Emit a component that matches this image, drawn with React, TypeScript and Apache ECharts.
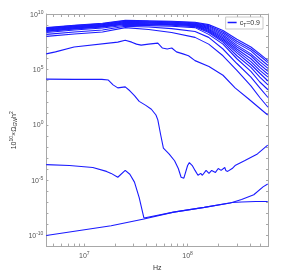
import React, { useEffect, useRef } from "react";
import * as echarts from "echarts";

// Frequencies (Hz) shared by the bundle of upper curves
const bundleFreq = [4.3e6, 8e6, 1.5e7, 2.5e7, 4.2e7, 7e7, 1.18e8, 1.6e8, 2.2e8, 3e8, 4.1e8, 5e8, 6e8];
// log10(10^10 x Omega_GW h^2) for each bundle curve
const bundle1 = [8.77, 8.99, 9.17, 9.43, 9.39, 9.34, 9.25, 9.04, 8.51, 7.72, 7.02, 6.40, 5.79];
const bundle2 = [8.73, 8.95, 9.12, 9.39, 9.34, 9.30, 9.21, 8.95, 8.38, 7.54, 6.84, 6.23, 5.61];
const bundle3 = [8.68, 8.90, 9.08, 9.34, 9.30, 9.25, 9.17, 8.86, 8.25, 7.37, 6.67, 5.96, 5.35];
const bundle4 = [8.64, 8.86, 9.04, 9.30, 9.25, 9.21, 9.12, 8.77, 8.11, 7.19, 6.40, 5.70, 5.09];
const bundle5 = [8.60, 8.82, 8.99, 9.25, 9.21, 9.17, 9.08, 8.68, 7.98, 7.02, 6.23, 5.44, 4.82];
const bundle6 = [8.55, 8.77, 8.95, 9.21, 9.17, 9.12, 9.04, 8.60, 7.85, 6.84, 5.96, 5.18, 4.56];
const bundle7 = [8.51, 8.73, 8.90, 9.17, 9.12, 9.08, 8.99, 8.51, 7.72, 6.67, 5.70, 4.91, 4.30];
const bundle8 = [8.46, 8.68, 8.86, 9.12, 9.08, 9.04, 8.95, 8.42, 7.59, 6.49, 5.44, 4.65, 3.95];
const bundle9 = [8.42, 8.64, 8.82, 9.08, 9.04, 8.99, 8.86, 8.33, 7.46, 6.23, 5.18, 4.30, 3.60];
const bundle10 = [8.33, 8.55, 8.73, 8.99, 8.95, 8.90, 8.77, 8.16, 7.28, 5.96, 4.82, 3.86, 3.16];
const bundle11 = [8.16, 8.38, 8.55, 8.90, 8.82, 8.68, 8.42, 7.89, 6.84, 5.53, 4.30, 3.33, 2.46];
const bundle12 = [7.98, 8.20, 8.38, 8.77, 8.60, 8.33, 7.89, 7.28, 6.23, 4.91, 3.51, 2.46, 1.58];

// Curve starting near 10^6.4
const curveCFreq = [4.28e6, 5.26e6, 7.96e6, 2.11e7, 2.49e7, 2.88e7, 3.2e7, 3.55e7, 4.19e7, 5.15e7, 5.71e7, 6.34e7, 7.03e7, 7.8e7, 9.02e7, 1.02e8, 1.18e8, 1.61e8, 2.2e8, 2.88e8, 3.85e8, 5.96e8];
const curveCVal = [6.40, 6.58, 7.02, 7.46, 7.63, 7.46, 7.28, 7.19, 7.28, 7.37, 6.93, 6.84, 6.93, 6.58, 6.40, 6.23, 5.79, 5.26, 4.47, 3.33, 2.37, 0.88];

// Curve starting near 10^4 with a noisy dip
const curveDFreq = [4.28e6, 7.96e6, 1.48e7, 1.71e7, 1.9e7, 2.11e7, 2.49e7, 2.76e7, 3.06e7, 3.4e7, 3.94e7, 4.46e7, 4.94e7, 5.15e7, 5.48e7, 5.83e7, 6.61e7, 7.48e7, 8.13e7, 8.65e7, 9.2e7, 1e8, 1.04e8, 1.11e8, 1.18e8, 1.26e8, 1.34e8, 1.39e8, 1.51e8, 1.61e8, 1.71e8, 1.86e8, 1.98e8, 2.11e8, 2.29e8, 2.34e8, 2.44e8, 2.7e8, 2.88e8, 3.55e8, 4.74e8, 5.96e8];
const curveDVal = [4.12, 4.10, 4.10, 4.04, 3.60, 3.33, 3.42, 3.07, 2.63, 2.11, 1.75, 1.40, 0.88, 0.44, -0.88, -2.11, -2.63, -3.25, -3.95, -4.74, -4.82, -3.68, -3.42, -3.68, -4.12, -4.56, -4.39, -4.56, -4.12, -4.39, -4.12, -4.30, -3.95, -4.12, -3.86, -4.12, -4.21, -3.95, -3.68, -3.25, -2.63, -1.84];

// Curve starting near 10^-3.6 that plunges onto the lowest curve
const curveBFreq = [4.28e6, 7.18e6, 1.21e7, 1.64e7, 1.82e7, 2.11e7, 2.49e7, 2.76e7, 3.06e7, 3.4e7, 3.78e7, 7.33e7, 1.45e8, 2.59e8, 3.33e8, 4.37e8, 5.37e8, 5.96e8];
const curveBVal = [-3.60, -3.68, -3.86, -4.21, -4.39, -4.74, -4.12, -4.47, -5.18, -6.58, -8.42, -7.89, -7.46, -7.06, -6.75, -6.32, -5.61, -5.35];

// Lowest curve
const curveAFreq = [4.28e6, 1.82e7, 3.78e7, 7.33e7, 1.45e8, 2.7e8, 3.33e8, 4.55e8, 5.96e8];
const curveAVal = [-10.0, -9.12, -8.51, -7.89, -7.46, -7.02, -6.97, -6.93, -6.93];

const xLabelExps = [7, 8];
const yLabelExps = [-10, -5, 0, 5, 10];
const xMinHz = 4.3e6;
const xMaxHz = 6e8;
const yMinExp = -11;
const yMaxExp = 10;
const seriesName = "c{sub|T}=0.9";

const curves: [number[], number[]][] = [
  [bundleFreq, bundle1],
  [bundleFreq, bundle2],
  [bundleFreq, bundle3],
  [bundleFreq, bundle4],
  [bundleFreq, bundle5],
  [bundleFreq, bundle6],
  [bundleFreq, bundle7],
  [bundleFreq, bundle8],
  [bundleFreq, bundle9],
  [bundleFreq, bundle10],
  [bundleFreq, bundle11],
  [bundleFreq, bundle12],
  [curveCFreq, curveCVal],
  [curveDFreq, curveDVal],
  [curveBFreq, curveBVal],
  [curveAFreq, curveAVal],
];

export default function App() {
  const ref = useRef<HTMLDivElement>(null);
  useEffect(() => {
    if (!ref.current) return;
    const chart = echarts.init(ref.current, null, { renderer: "svg" });
    const xMin = Math.log10(xMinHz);
    const xMax = Math.log10(xMaxHz);
    const xMinor: number[] = [];
    for (let e = 6; e <= 8; e++) {
      for (let k = 1; k <= 9; k++) {
        const v = Math.log10(k * Math.pow(10, e));
        if (v >= xMin && v <= xMax) xMinor.push(v);
      }
    }
    const yMinor: number[] = [];
    for (let e = yMinExp; e <= yMaxExp; e++) yMinor.push(e);
    const font = "Liberation Sans";
    const axisColor = "#a8a8a8";
    const labelColor = "#555";
    const rich = {
      sup: { fontSize: 5, color: labelColor, padding: [0, 0, 5, 0], fontFamily: font },
      base: { fontSize: 7, color: labelColor, fontFamily: font },
    };
    const expFmt = (v: number) => `{base|10}{sup|${Math.round(v)}}`;
    const commonX = {
      type: "value",
      min: xMin,
      max: xMax,
      axisLine: { show: true, onZero: false, lineStyle: { color: axisColor, width: 1 } },
      splitLine: { show: false },
    };
    const commonY = {
      type: "value",
      min: yMinExp,
      max: yMaxExp,
      axisLine: { show: true, onZero: false, lineStyle: { color: axisColor, width: 1 } },
      splitLine: { show: false },
    };
    chart.setOption({
      animation: false,
      textStyle: { fontFamily: font },
      grid: { left: 30, right: 28, top: 14, bottom: 23, containLabel: false },
      legend: {
        show: true,
        right: 33,
        top: 17,
        itemWidth: 9,
        itemHeight: 1.5,
        itemGap: 2,
        padding: [2, 3, 2, 2],
        borderColor: "#bbb",
        borderWidth: 0.8,
        backgroundColor: "#fff",
        textStyle: {
          fontSize: 7,
          color: "#333",
          fontFamily: font,
          padding: [0, 0, 0, -2],
          rich: {
            sub: { fontSize: 5, color: "#333", padding: [4, 0, 0, 0], fontFamily: font },
          },
        },
        data: [{ name: seriesName, icon: "rect" }],
      },
      xAxis: [
        {
          ...commonX,
          position: "bottom",
          name: "Hz",
          nameLocation: "middle",
          nameGap: 13,
          nameTextStyle: { fontSize: 7, color: "#333", fontFamily: font },
          axisTick: { show: true, inside: true, length: 3, customValues: xMinor, lineStyle: { color: axisColor } },
          axisLabel: {
            show: true,
            customValues: xLabelExps,
            formatter: expFmt,
            rich,
            margin: 4,
          },
        },
        {
          ...commonX,
          position: "top",
          axisTick: { show: true, inside: true, length: 3, customValues: xMinor, lineStyle: { color: axisColor } },
          axisLabel: { show: false },
        },
      ],
      yAxis: [
        {
          ...commonY,
          position: "left",
          name: "{base|10}{sup|10}{base|×Ω}{sub|GW}{base|h}{sup|2}",
          nameLocation: "middle",
          nameGap: 17,
          nameRotate: 90,
          nameTextStyle: {
            rich: {
              base: { fontSize: 7, color: "#333", fontFamily: font },
              sup: { fontSize: 5, color: "#333", padding: [0, 0, 5, 0], fontFamily: font },
              sub: { fontSize: 5, color: "#333", padding: [4, 0, 0, 0], fontFamily: font },
            },
          },
          axisTick: { show: true, inside: true, length: 2, customValues: yMinor, lineStyle: { color: axisColor } },
          axisLabel: {
            show: true,
            customValues: yLabelExps,
            formatter: expFmt,
            rich,
            margin: 3,
          },
        },
        {
          ...commonY,
          position: "right",
          axisTick: { show: true, inside: true, length: 2, customValues: yMinor, lineStyle: { color: axisColor } },
          axisLabel: { show: false },
        },
      ],
      series: curves.map(([fr, vals]) => ({
        name: seriesName,
        type: "line",
        xAxisIndex: 0,
        yAxisIndex: 0,
        showSymbol: false,
        symbol: "none",
        smooth: false,
        lineStyle: { color: "#1a1aff", width: 1.1 },
        itemStyle: { color: "#1a1aff" },
        data: fr.map((f, i) => [Math.log10(f), vals[i]]),
      })),
    });
    return () => chart.dispose();
  }, []);
  return (
    <div
      ref={ref}
      style={{ position: "fixed", left: 0, top: 0, width: 296, height: 276 }}
    />
  );
}
